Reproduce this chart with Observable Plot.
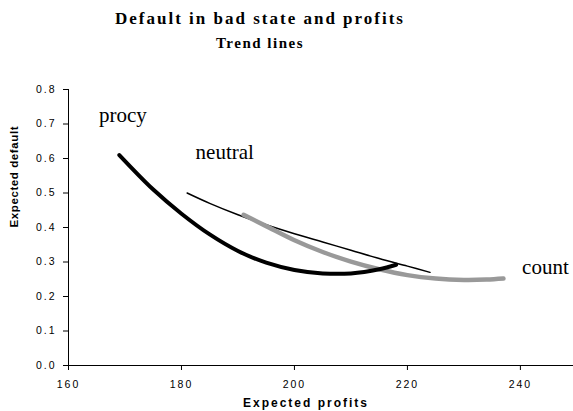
<!DOCTYPE html>
<html>
<head>
<meta charset="utf-8">
<script src="https://cdn.jsdelivr.net/npm/d3@7"></script>
<script src="https://cdn.jsdelivr.net/npm/@observablehq/plot@0.6"></script>
<style>
  body { margin: 0; background: #fff; }
  #title {
    width: 573px; height: 55px; box-sizing: border-box;
    padding-top: 9px; padding-right: 53px;
    font-family: "Liberation Serif", "Times New Roman", serif;
    font-weight: bold; color: #000; text-align: center;
  }
  #title .t1 { font-size: 17px; line-height: 20px; letter-spacing: 2px; }
  #title .t2 { font-size: 15px; line-height: 20px; letter-spacing: 1.5px; margin-top: 4px; }
</style>
</head>
<body>
<div id="title">
  <div class="t1">Default in bad state and profits</div>
  <div class="t2">Trend lines</div>
</div>
<div id="chart"></div>
<script>
// Series
const procyProfits = [169, 175, 180, 185, 190, 195, 200, 205, 210, 215, 218];
const procyDefault = [0.61, 0.51, 0.44, 0.38, 0.332, 0.298, 0.277, 0.267, 0.267, 0.279, 0.292];

const neutralProfits = [181, 185, 190, 195, 200, 205, 210, 215, 220, 224];
const neutralDefault = [0.50, 0.47, 0.437, 0.408, 0.382, 0.358, 0.334, 0.31, 0.288, 0.27];

const countProfits = [191, 195, 200, 205, 210, 215, 220, 225, 230, 234, 237];
const countDefault = [0.437, 0.404, 0.363, 0.329, 0.301, 0.279, 0.262, 0.252, 0.248, 0.249, 0.252];

const seriesNames = ["procy", "neutral", "count"];
const labelProfits = [165.4, 182.5, 240.3];
const labelDefault = [0.705, 0.60, 0.264];

const xTicks = [160, 180, 200, 220, 240];
const yTicks = [0, 0.1, 0.2, 0.3, 0.4, 0.5, 0.6, 0.7, 0.8];

const toRows = (xs, ys) => xs.map((x, i) => ({x, y: ys[i]}));
const procy = toRows(procyProfits, procyDefault);
const neutral = toRows(neutralProfits, neutralDefault);
const count = toRows(countProfits, countDefault);
const labels = seriesNames.map((name, i) => ({name, x: labelProfits[i], y: labelDefault[i]}));

const chart = Plot.plot({
  width: 573,
  height: 356,
  marginLeft: 68,
  marginRight: 0,
  marginTop: 34,
  marginBottom: 46,
  style: {fontFamily: "Liberation Sans, Arial, sans-serif", color: "#000", background: "#fff", overflow: "visible"},
  x: {domain: [160, 249.4]},
  y: {domain: [0, 0.8]},
  marks: [
    Plot.axisX({ticks: xTicks, tickSize: 5, tickPadding: 10, fontSize: 10.5, label: null, tickFormat: d3.format("d")}),
    Plot.axisY({ticks: yTicks, tickSize: 5, tickPadding: 7, fontSize: 10.5, label: null, tickFormat: d3.format(".1f")}),
    Plot.ruleX([160], {stroke: "#000", strokeWidth: 1}),
    Plot.ruleY([0], {stroke: "#000", strokeWidth: 1}),
    Plot.line(neutral, {x: "x", y: "y", stroke: "#000", strokeWidth: 1.5, curve: "catmull-rom"}),
    Plot.line(count, {x: "x", y: "y", stroke: "#999999", strokeWidth: 4.5, curve: "catmull-rom"}),
    Plot.line(procy, {x: "x", y: "y", stroke: "#000", strokeWidth: 4, curve: "catmull-rom"}),
    Plot.text(labels, {x: "x", y: "y", text: "name", textAnchor: "start", lineAnchor: "bottom",
      fontFamily: "Liberation Serif, Times New Roman, serif", fontSize: 21, fill: "#000"}),
    Plot.text(["Expected profits"], {frameAnchor: "bottom", dx: -15, dy: 41, lineAnchor: "bottom",
      fontSize: 12, fontWeight: "bold", fill: "#000"}),
    Plot.text(["Expected default"], {frameAnchor: "left", dx: -51, rotate: -90, lineAnchor: "bottom",
      fontSize: 11.5, fontWeight: "bold", fill: "#000"})
  ]
});
document.getElementById("chart").appendChild(chart);

// letter spacing to mimic the original rendering
d3.select(chart).selectAll('g[aria-label="x-axis tick label"] text, g[aria-label="y-axis tick label"] text')
  .attr("letter-spacing", "2px");
d3.select(chart).selectAll("text").filter(function () { return this.textContent === "Expected profits"; })
  .attr("letter-spacing", "2px");
d3.select(chart).selectAll("text").filter(function () { return this.textContent === "Expected default"; })
  .attr("letter-spacing", "0.6px");
</script>
</body>
</html>
